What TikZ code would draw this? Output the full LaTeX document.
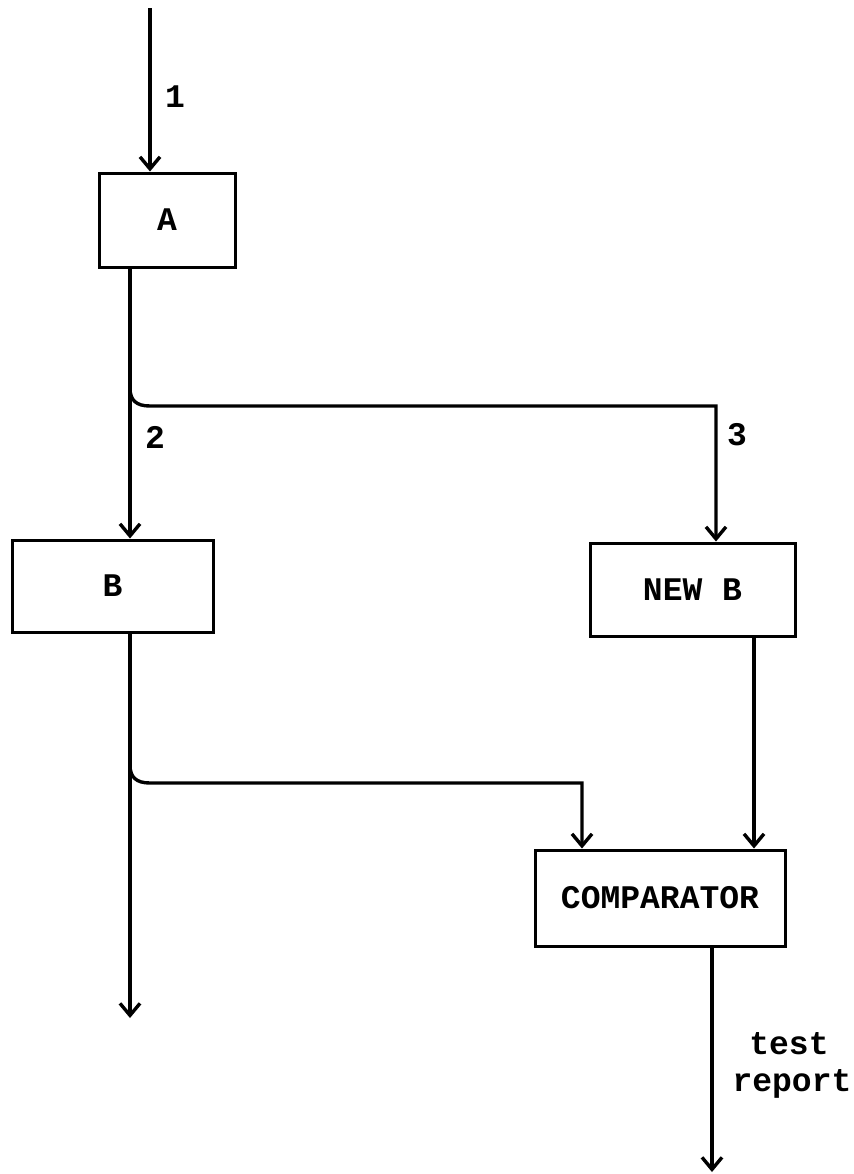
\documentclass[tikz,border=0pt]{standalone}
\usepackage{fontspec}
\newfontfamily\monofnt{Liberation Mono}
\usetikzlibrary{arrows.meta}
\begin{document}
\begin{tikzpicture}[x=0.5pt,y=-0.5pt,
  line width=1.7pt,
  arr/.style={-{Straight Barb[length=6pt,width=10pt,line width=1.7pt]}},
  blk/.style={draw,rectangle,inner sep=0pt,line width=1.5pt,font=\monofnt\bfseries\fontsize{16.5}{13}\selectfont},
  lbl/.style={font=\monofnt\bfseries\fontsize{16.5}{14}\selectfont,inner sep=0pt}]
\useasboundingbox (0,0) rectangle (854,1174);
% boxes
\node[blk,minimum width=68pt,minimum height=47pt] (A) at (167,220) {A};
\node[blk,minimum width=100.5pt,minimum height=46pt] (B) at (112.5,586) {B};
\node[blk,minimum width=102.5pt,minimum height=46.5pt] (NB) at (692.5,589.5) {NEW B};
\node[blk,minimum width=125pt,minimum height=48pt] (C) at (660,898) {COMPARATOR};
% coordinates
\coordinate (in) at (150,8);
\coordinate (a1) at (130,267);
\coordinate (j1) at (130,388);
\coordinate (h1) at (150,406);
\coordinate (k1) at (716,406);
\coordinate (b1) at (130,632);
\coordinate (j2) at (130,765);
\coordinate (h2) at (150,783);
\coordinate (k2) at (582,783);
\coordinate (bend) at (130,1018);
\coordinate (nb1) at (754,637);
\coordinate (c1) at (712,946);
\coordinate (cend) at (712,1172);
% connectors
\draw[arr] (in) -- (in |- A.north);
\draw[arr] (a1) -- (a1 |- B.north);
\draw[arr] (j1) .. controls (130,400) and (136,406) .. (h1) -- (k1) -- (k1 |- NB.north);
\draw[arr] (b1) -- (bend);
\draw[arr] (j2) .. controls (130,777) and (136,783) .. (h2) -- (k2) -- (k2 |- C.north);
\draw[arr] (nb1) -- (nb1 |- C.north);
\draw[arr] (c1) -- (cend);
% labels
\node[lbl] (l1) at (175,97) {1};
\node[lbl] (l2) at (155,437) {2};
\node[lbl] (l3) at (737,435) {3};
\node[lbl,anchor=base] (tr1) at (789,1054) {test};
\node[lbl,anchor=base] (tr2) at (792,1091) {report};
\end{tikzpicture}
\end{document}
